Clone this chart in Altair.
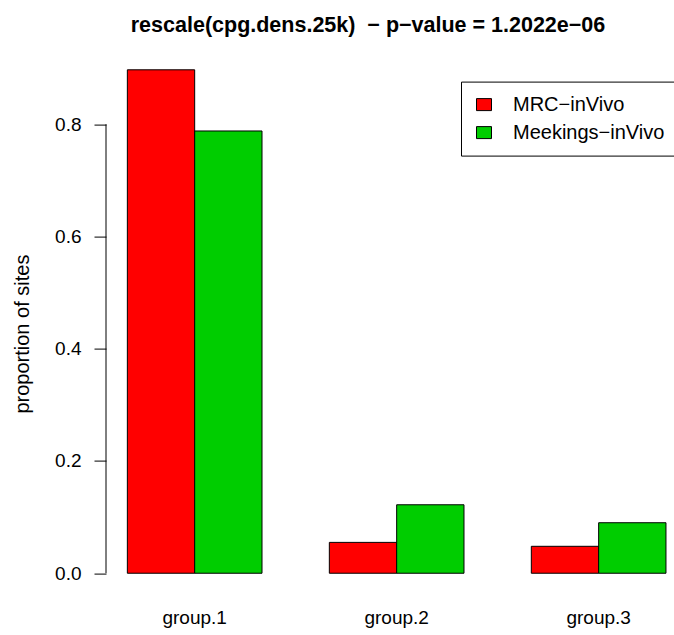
import altair as alt
import pandas as pd

# Proportion of sites per CpG-density group for the two samples
groups = ["group.1", "group.2", "group.3"]
series = ["MRC\u2212inVivo", "Meekings\u2212inVivo"]
mrc_invivo = [0.897, 0.055, 0.048]
meekings_invivo = [0.788, 0.122, 0.090]
y_ticks = [0.0, 0.2, 0.4, 0.6, 0.8]
bar_colors = ["#FF0000", "#00CD00"]

rows = []
for name, values in zip(series, [mrc_invivo, meekings_invivo]):
    for g, v in zip(groups, values):
        rows.append({"group": g, "series": name, "proportion": v})
df = pd.DataFrame(rows)

FONT = "Liberation Sans"
title_text = "rescale(cpg.dens.25k)\u00a0\u00a0\u2212 p\u2212value = 1.2022e\u221206"

y_scale = alt.Scale(domain=[-0.045, 0.933], nice=False, zero=False)

y_axis = alt.Axis(
    values=y_ticks, format=".1f", title="proportion of sites",
    grid=False, domain=False, tickSize=12, tickColor="black", tickWidth=1,
    labelPadding=13, labelFontSize=19, labelFont=FONT, labelColor="black",
    titleFontSize=20, titleFont=FONT, titleFontWeight="normal", titleColor="black",
    titleAngle=-90, titleX=-84, titleY=284, titleBaseline="middle", titleAlign="center",
)

bars = alt.Chart(df).mark_bar(stroke="black", strokeWidth=1, opacity=1).encode(
    x=alt.X(
        "group:N",
        sort=groups,
        scale=alt.Scale(paddingInner=1 / 3, paddingOuter=0.0727, align=0.727),
        axis=alt.Axis(
            title=None, labelAngle=0, domain=False, ticks=False, tickSize=0,
            labelPadding=10, labelFontSize=19, labelFont=FONT, labelColor="black",
        ),
    ),
    xOffset=alt.XOffset("series:N", sort=series,
                        scale=alt.Scale(paddingInner=0, paddingOuter=0)),
    y=alt.Y("proportion:Q", stack=None, scale=y_scale, axis=y_axis),
    color=alt.Color(
        "series:N",
        sort=series,
        scale=alt.Scale(domain=series, range=bar_colors),
        legend=alt.Legend(
            title=None, orient="none", legendX=355, legendY=32,
            strokeColor="black", fillColor="white", padding=13, cornerRadius=0,
            labelFontSize=20, labelFont=FONT, labelColor="black", labelOffset=19,
            symbolType="M-1,-0.8H1V0.8H-1Z", symbolSize=225,
            symbolStrokeColor="black", symbolStrokeWidth=1, symbolOpacity=1,
            rowPadding=8,
        ),
    ),
)

# y axis line spans only the tick range
axis_line = alt.Chart(
    pd.DataFrame({"proportion": [min(y_ticks)], "hi": [max(y_ticks)]})
).mark_rule(color="black", strokeWidth=1).encode(
    x=alt.value(0),
    y=alt.Y("proportion:Q", scale=y_scale, axis=y_axis),
    y2="hi:Q",
)

chart = alt.layer(bars, axis_line).properties(
    width=568,
    height=548.9,
    title=alt.Title(title_text, fontSize=21.5, fontWeight="bold", font=FONT, color="black",
                    anchor="middle", dx=-22, dy=4, offset=0, baseline="alphabetic"),
    autosize=alt.AutoSizeParams(type="none"),
    padding={"left": 106, "top": 49.6, "right": 0, "bottom": 36.5},
    background="white",
).configure_view(stroke=None)

chart.save("out.html", embed_options={"renderer": "svg", "actions": False})
